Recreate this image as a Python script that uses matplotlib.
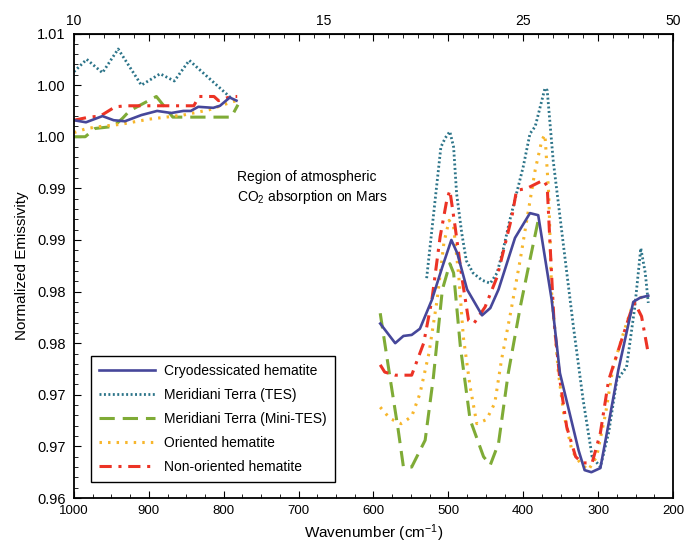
import numpy as np
import matplotlib
matplotlib.use("Agg")
import matplotlib.pyplot as plt
from matplotlib.ticker import MultipleLocator, FixedLocator, FixedFormatter, NullFormatter

plt.rcParams['font.family'] = ['Liberation Sans', 'DejaVu Sans']
plt.rcParams['mathtext.fontset'] = 'custom'
plt.rcParams['mathtext.rm'] = 'Liberation Sans'
plt.rcParams['mathtext.default'] = 'rm'

nan = np.nan

# wavenumber (cm-1) and normalized emissivity
# left part / gap (CO2 band) / right part
cryo_wn = [1000, 984, 962, 947, 932, 910, 889, 870, 854, 844, 834, 814, 805, 792, 783, nan,
           591, 571, 560, 549, 538, 522, 508, 496, 488, 475, 455, 444, 433, 411, 391, 380,
           362, 351, 338, 326, 318, 309, 297, 286, 273, 253, 244, 233]
cryo_em = [0.9966, 0.9964, 0.9970, 0.9966, 0.9965, 0.9971, 0.9975, 0.9973, 0.9975, 0.9975,
           0.9979, 0.9978, 0.9980, 0.9988, 0.9985, nan,
           0.9769, 0.9750, 0.9757, 0.9758, 0.9764, 0.9792, 0.9824, 0.9850, 0.9837, 0.9802,
           0.9777, 0.9784, 0.9802, 0.9852, 0.9876, 0.9874, 0.9792, 0.9721, 0.9682, 0.9646,
           0.9627, 0.9625, 0.9629, 0.9672, 0.9724, 0.9790, 0.9794, 0.9796]

tes_wn = [1000, 983, 962, 941, 910, 885, 866, 846, 814, 791, nan,
          529, 510, 504, 498, 493, 489, 482, 476, 467, 455, 444, 435, 427, 418, 409, 400, 391,
          384, 371, 368, 360, 346, 333, 320, 308, 297, 286, 275, 262, 251, 243, 237, 233]
tes_em = [1.0013, 1.0025, 1.0012, 1.0035, 1.0000, 1.0011, 1.0004, 1.0024, 1.0003, 0.9988, nan,
          0.9813, 0.9940, 0.9949, 0.9955, 0.9940, 0.9895, 0.9856, 0.9830, 0.9818, 0.9811,
          0.9808, 0.9818, 0.9840, 0.9869, 0.9895, 0.9921, 0.9953, 0.9960, 0.9997, 0.9995,
          0.9927, 0.9843, 0.9766, 0.9695, 0.9640, 0.9630, 0.9663, 0.9714, 0.9727, 0.9785,
          0.9842, 0.9818, 0.9789]

mini_wn = [1000, 985, 972, 947, 935, 926, 890, 868, 790, 781, nan,
           591, 578, 567, 560, 549, 531, 520, 508, 498, 493, 484, 471, 453, 444, 433, 420,
           404, 391, 380]
mini_em = [0.9950, 0.9950, 0.9958, 0.9960, 0.9968, 0.9975, 0.9989, 0.9969, 0.9969, 0.9981, nan,
           0.9779, 0.9717, 0.9666, 0.9630, 0.9630, 0.9656, 0.9717, 0.9802, 0.9827, 0.9818,
           0.9747, 0.9676, 0.9640, 0.9632, 0.9653, 0.9721, 0.9785, 0.9831, 0.9869]

orient_wn = [1000, 983, 964, 938, 900, 854, 820, 792, 783, nan,
             591, 578, 563, 549, 538, 526, 515, 506, 499, 493, 486, 480, 471, 462, 449, 438,
             429, 417, 404, 393, 384, 375, 371, 366, 362, 353, 346, 335, 324, 313, 302, 290,
             280, 266, 253, 241, 233]
orient_em = [0.9954, 0.9958, 0.9960, 0.9962, 0.9967, 0.9971, 0.9976, 0.9983, 0.9985, nan,
             0.9688, 0.9677, 0.9672, 0.9679, 0.9701, 0.9740, 0.9792, 0.9847, 0.9869, 0.9863,
             0.9814, 0.9756, 0.9708, 0.9672, 0.9676, 0.9692, 0.9734, 0.9779, 0.9831, 0.9879,
             0.9918, 0.9947, 0.9952, 0.9895, 0.9798, 0.9721, 0.9682, 0.9646, 0.9634, 0.9627,
             0.9640, 0.9682, 0.9727, 0.9760, 0.9789, 0.9795, 0.9795]

nonor_wn = [1000, 980, 965, 945, 930, 840, 833, 813, 807, 790, 782, nan,
            591, 585, 571, 549, 533, 522, 511, 502, 498, 491, 482, 473, 466, 451, 435, 415,
            409, 395, 373, 368, 364, 359, 351, 342, 330, 321, 308, 297, 286, 270, 257, 251,
            242, 233]
nonor_em = [0.9966, 0.9969, 0.9970, 0.9979, 0.9980, 0.9980, 0.9989, 0.9989, 0.9985, 0.9989,
            0.9989, nan,
            0.9729, 0.9722, 0.9719, 0.9719, 0.9750, 0.9792, 0.9853, 0.9889, 0.9898, 0.9863,
            0.9814, 0.9772, 0.9769, 0.9785, 0.9814, 0.9873, 0.9898, 0.9900, 0.9908, 0.9902,
            0.9843, 0.9772, 0.9714, 0.9669, 0.9640, 0.9634, 0.9634, 0.9663, 0.9714, 0.9750,
            0.9779, 0.9789, 0.9776, 0.9740]

ytick_vals = [0.960, 0.965, 0.970, 0.975, 0.980, 0.985, 0.990, 0.995, 1.000, 1.005]
ytick_labels = ['0.96', '0.97', '0.97', '0.98', '0.98', '0.99', '0.99', '1.00', '1.00', '1.01']
top_microns = [10, 15, 25, 50]

fig = plt.figure(figsize=(6.87, 5.46), dpi=100)
ax = fig.add_axes([0.1077, 0.0879, 0.8719, 0.8507])

ax.plot(tes_wn, tes_em, color='#2c7489', lw=2.0, ls=(0, (0.7, 0.9)),
        label='Meridiani Terra (TES)')
ax.plot(mini_wn, mini_em, color='#7fab36', lw=2.2, ls=(0, (5, 2.6)),
        label='Meridiani Terra (Mini-TES)')
ax.plot(orient_wn, orient_em, color='#f7b62c', lw=2.2, ls=(0, (0.8, 2.0)),
        label='Oriented hematite')
ax.plot(nonor_wn, nonor_em, color='#ec3325', lw=2.2, ls=(0, (4, 2.2, 1, 2.2)),
        label='Non-oriented hematite')
ax.plot(cryo_wn, cryo_em, color='#46479a', lw=1.9, ls='-',
        label='Cryodessicated hematite')

ax.set_xlim(1000, 200)
ax.set_ylim(0.960, 1.005)

ax.xaxis.set_major_locator(MultipleLocator(100))
ax.xaxis.set_minor_locator(MultipleLocator(25))
ax.yaxis.set_major_locator(FixedLocator(ytick_vals))
ax.yaxis.set_major_formatter(FixedFormatter(ytick_labels))
ax.yaxis.set_minor_locator(MultipleLocator(0.001))
ax.tick_params(axis='both', which='both', direction='in', right=False, top=False)
ax.tick_params(axis='both', which='major', length=5, width=0.8)
ax.tick_params(axis='both', which='minor', length=3, width=0.6)
ax.tick_params(axis='x', labelsize=9.5, pad=5)
ax.tick_params(axis='y', labelsize=10.5, pad=6)
for s in ax.spines.values():
    s.set_linewidth(1.3)

# top axis: tick marks plus wavelength (micron) labels
top = ax.secondary_xaxis('top')
top.xaxis.set_major_locator(MultipleLocator(100))
top.xaxis.set_minor_locator(MultipleLocator(20))
top.xaxis.set_major_formatter(NullFormatter())
top.tick_params(which='both', direction='in')
top.tick_params(which='major', length=5, width=0.8)
top.tick_params(which='minor', length=3, width=0.6)
for um in top_microns:
    ax.text(1e4 / um, 1.012, str(um), transform=ax.get_xaxis_transform(),
            ha='center', va='bottom', fontsize=10)

ax.set_xlabel('Wavenumber (cm$^{-1}$)', fontsize=11, labelpad=4)
ax.set_ylabel('Normalized Emissivity', fontsize=11, labelpad=6)

ax.text(0.272, 0.667, 'Region of atmospheric\nCO$_{2}$ absorption on Mars',
        transform=ax.transAxes, fontsize=10, ha='left', va='center', linespacing=1.3)

h, l = ax.get_legend_handles_labels()
order = [4, 0, 1, 2, 3]
leg = ax.legend([h[i] for i in order], [l[i] for i in order], loc='lower left',
                bbox_to_anchor=(0.028, 0.034), borderaxespad=0, fontsize=10,
                handlelength=4.0, handletextpad=0.7, labelspacing=0.72,
                fancybox=False, framealpha=1, edgecolor='black', borderpad=0.6)
leg.get_frame().set_linewidth(1.0)

fig.savefig('out.png', dpi=100)
